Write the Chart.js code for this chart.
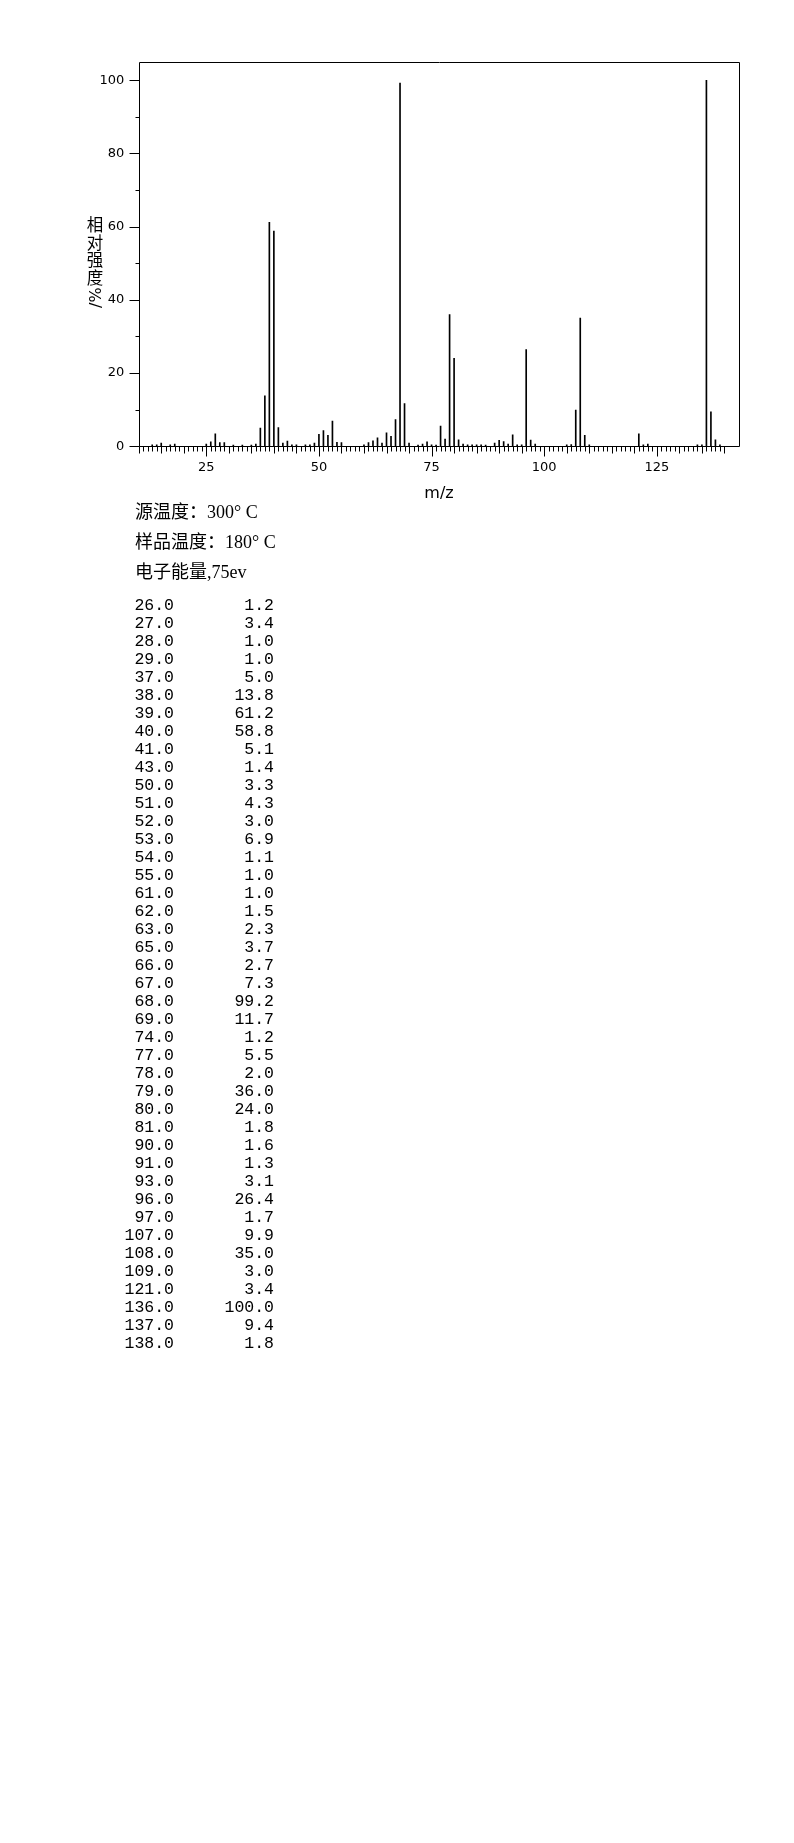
<!DOCTYPE html>
<html>
<head>
<meta charset="utf-8">
<script src="https://cdn.jsdelivr.net/npm/chart.js@4/dist/chart.umd.min.js"></script>
<style>
body{margin:0;background:#fff;width:794px;height:1843px;position:relative;overflow:hidden;color:#000}
#c{position:absolute;left:0;top:0}
#ytitle{position:absolute;left:86px;top:216px;width:18px;text-align:center;font:16.5px/17.5px "Noto Sans CJK SC";}
#yunit{position:absolute;left:85px;top:289px;width:20px;height:18px;line-height:18px;text-align:center;font:16px "DejaVu Sans";transform:rotate(-90deg)}
.cond{position:absolute;left:135px;font:18px/30px "Liberation Serif","Noto Sans CJK SC";white-space:pre}
#rows{position:absolute;left:0;top:597px;font:16.5px/18px "Liberation Mono";}
.row{height:18px;position:relative}
.row span{position:absolute;top:0;text-align:right;white-space:pre}
.row .a{left:100px;width:74px}
.row .b{left:200px;width:74px}
</style>
</head>
<body>
<canvas id="c" width="794" height="505"></canvas>
<div id="ytitle">相<br>对<br>强<br>度</div>
<div id="yunit">/%</div>
<div class="cond" style="top:497px">源温度：300° C</div>
<div class="cond" style="top:527px">样品温度：180° C</div>
<div class="cond" style="top:557px">电子能量,75ev</div>
<div id="rows"></div>
<script>
// m/z of every line drawn in the spectrum
const peakMz = [13, 14, 15, 17, 18, 25, 26, 27, 28, 29, 31, 33, 35, 36, 37, 38, 39, 40, 41, 42,
  43, 44, 45, 47, 48, 49, 50, 51, 52, 53, 54, 55, 60, 61, 62, 63, 64, 65, 66, 67,
  68, 69, 70, 72, 73, 74, 75, 76, 77, 78, 79, 80, 81, 82, 83, 84, 85, 86, 87, 89,
  90, 91, 92, 93, 94, 95, 96, 97, 98, 105, 106, 107, 108, 109, 110, 121, 122, 123, 134, 135,
  136, 137, 138, 139];
// relative intensity (%) for each m/z above
const peakIntensity = [0.4, 0.4, 0.9, 0.4, 0.6, 0.6, 1.2, 3.4, 1.0, 1.0, 0.3, 0.3, 0.3, 0.6, 5.0, 13.8, 61.2, 58.8, 5.1, 0.9,
  1.4, 0.4, 0.4, 0.4, 0.4, 0.9, 3.3, 4.3, 3.0, 6.9, 1.1, 1.0, 0.4, 1.0, 1.5, 2.3, 0.9, 3.7, 2.7, 7.3,
  99.2, 11.7, 0.9, 0.3, 0.6, 1.2, 0.4, 0.3, 5.5, 2.0, 36.0, 24.0, 1.8, 0.6, 0.4, 0.4, 0.4, 0.4, 0.3, 0.9,
  1.6, 1.3, 0.6, 3.1, 0.4, 0.4, 26.4, 1.7, 0.6, 0.4, 0.5, 9.9, 35.0, 3.0, 0.4, 3.4, 0.4, 0.6, 0.4, 0.4,
  100.0, 9.4, 1.8, 0.4];

const xLabelValues = [25, 50, 75, 100, 125];
const yLabelValues = [0, 20, 40, 60, 80, 100];
const xMin = 10, xMax = 143.3, xTickLast = 140;
const yMax = 104.9;

// listing under the chart: peaks of 1% and more
const rows = document.getElementById("rows");
peakMz.forEach((m, i) => {
  if (peakIntensity[i] < 1) return;
  rows.innerHTML += `<div class="row"><span class="a">${m.toFixed(1)}</span><span class="b">${peakIntensity[i].toFixed(1)}</span></div>`;
});

// box and tick marks
const frame = {
  id: "frame",
  afterDatasetsDraw(chart) {
    const { ctx, chartArea: a, scales: { x, y } } = chart;
    const L = Math.round(a.left) + 0.5, R = Math.round(a.right) + 0.5;
    const T = Math.round(a.top) + 0.5, B = Math.round(a.bottom) + 0.5;
    ctx.save();
    ctx.strokeStyle = "#000";
    ctx.lineWidth = 1;
    ctx.beginPath();
    ctx.rect(L, T, R - L, B - T);
    for (let v = 0; v <= 100; v += 10) {
      const py = Math.round(y.getPixelForValue(v)) + 0.5;
      ctx.moveTo(L - (v % 20 === 0 ? 10 : 4), py);
      ctx.lineTo(L, py);
    }
    for (let m = xMin; m <= xTickLast; m++) {
      const px = Math.round(x.getPixelForValue(m)) + 0.5;
      ctx.moveTo(px, B);
      ctx.lineTo(px, B + (m % 25 === 0 ? 10 : m % 5 === 0 ? 7 : 5));
    }
    ctx.stroke();
    ctx.restore();
  }
};

Chart.defaults.font.family = "DejaVu Sans";
Chart.defaults.color = "#000";

new Chart(document.getElementById("c"), {
  type: "bar",
  data: {
    datasets: [{
      data: peakMz.map((m, i) => ({ x: m, y: peakIntensity[i] })),
      backgroundColor: "#000",
      borderWidth: 0,
      barThickness: 1
    }]
  },
  options: {
    responsive: false,
    animation: false,
    devicePixelRatio: 1,
    layout: { padding: { top: 62.3, right: 54.7, left: 0, bottom: 0 } },
    plugins: { legend: { display: false }, tooltip: { enabled: false } },
    scales: {
      x: {
        type: "linear",
        min: xMin,
        max: xMax,
        offset: false,
        grid: { display: false, drawTicks: false },
        border: { display: false },
        afterBuildTicks: s => { s.ticks = xLabelValues.map(v => ({ value: v })); },
        afterFit: s => { s.height = 505 - 446.3; },
        ticks: { font: { size: 13 }, padding: 14, maxRotation: 0, autoSkip: false },
        title: { display: true, text: "m/z", font: { size: 16 }, padding: { top: 0, bottom: 2 } }
      },
      y: {
        min: 0,
        max: yMax,
        grid: { display: false, drawTicks: false },
        border: { display: false },
        afterBuildTicks: s => { s.ticks = yLabelValues.map(v => ({ value: v })); },
        afterFit: s => { s.width = 138.7; },
        ticks: { font: { size: 13 }, padding: 14.5 }
      }
    }
  },
  plugins: [frame]
});
</script>
</body>
</html>
